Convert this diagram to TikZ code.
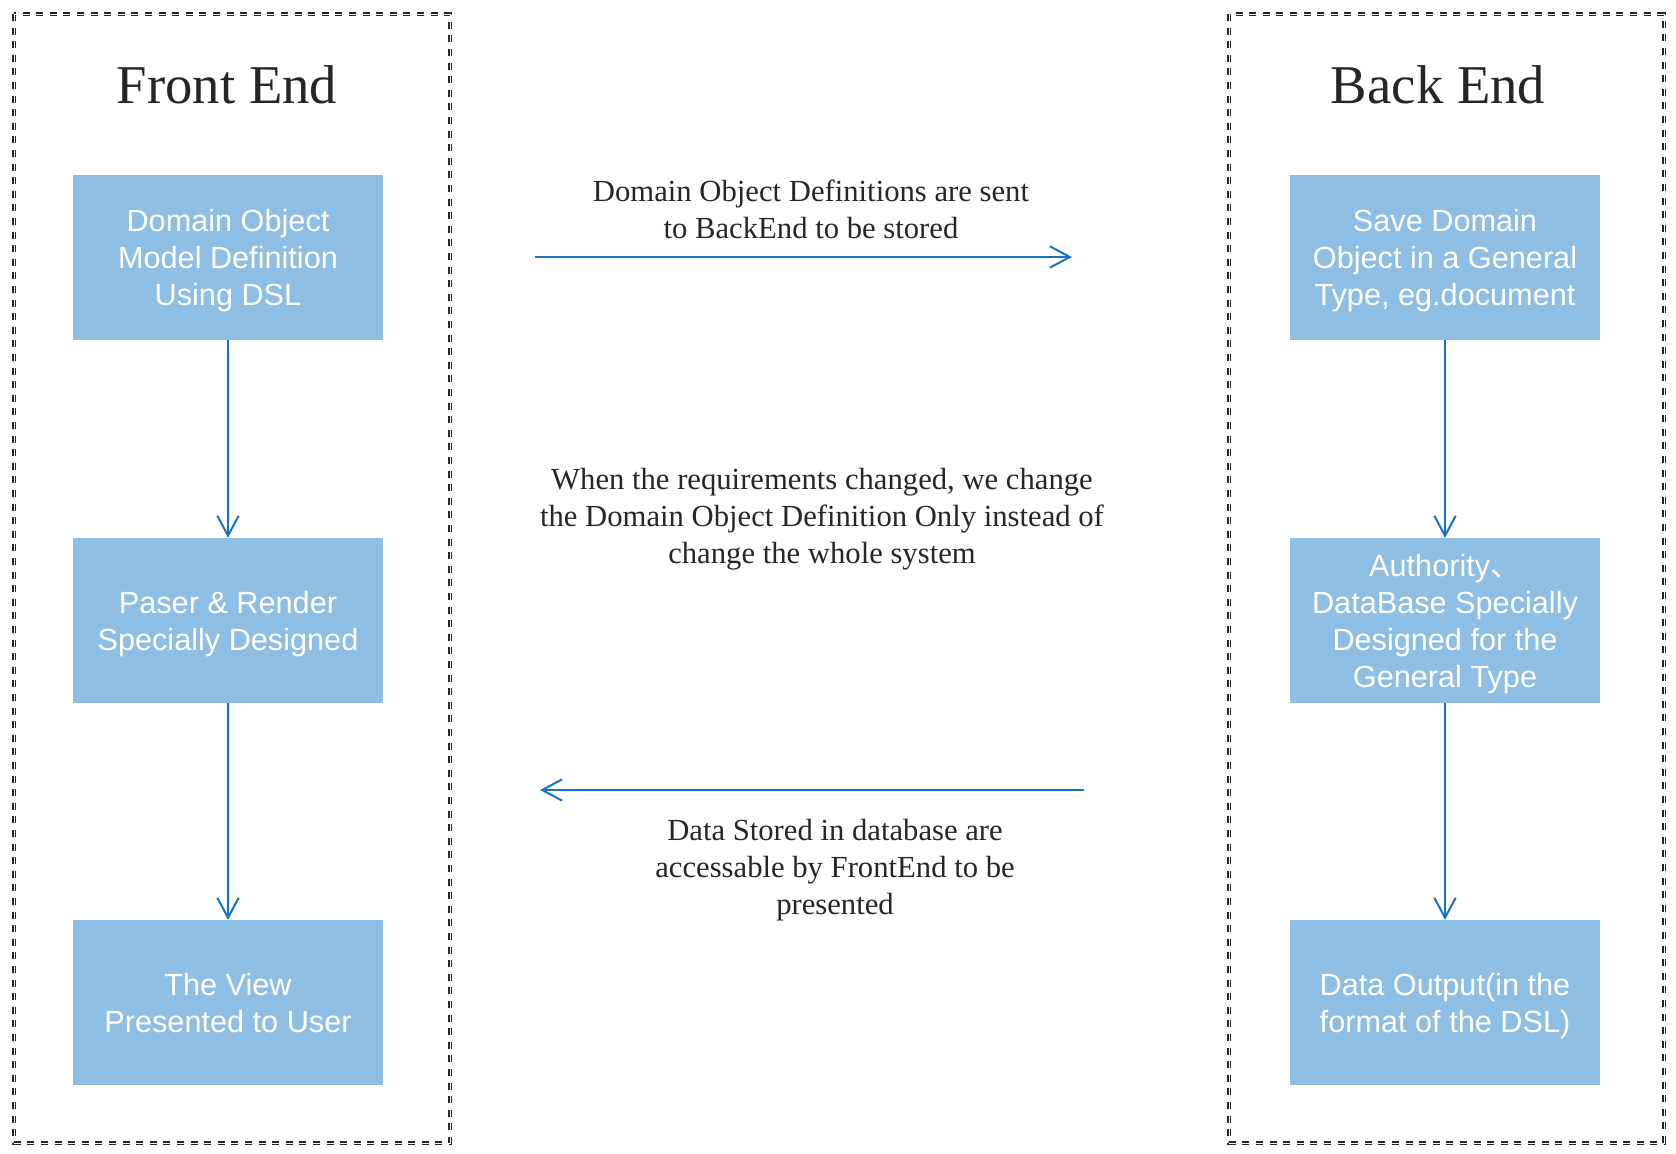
\documentclass[tikz,border=0pt]{standalone}
\usepackage{fontspec}
\setmainfont{Liberation Serif}
\newfontfamily\boxfont{Liberation Sans}
\newfontfamily\cjk{Noto Sans CJK SC}
\usetikzlibrary{positioning}
\usetikzlibrary{arrows.meta}
\usepackage{xcolor}
\definecolor{boxblue}{RGB}{142,190,228}
\definecolor{arrowblue}{RGB}{22,114,196}
\definecolor{inkgray}{RGB}{38,38,38}

\begin{document}
\begin{tikzpicture}[x=0.75pt,y=-0.75pt,
  frame/.style={draw=inkgray,line width=1pt,double=white,double distance=0.6pt,dash pattern=on 5.2pt off 5pt},
  block/.style={fill=boxblue,minimum width=232.5pt,minimum height=123.5pt,inner sep=0pt,text depth=0pt,
    align=center,text=white,font=\boxfont\fontsize{23}{27.7}\selectfont},
  title/.style={anchor=base,text=inkgray,font=\fontsize{41}{49}\selectfont},
  note/.style={align=center,text=inkgray,font=\fontsize{23}{27.7}\selectfont},
  link/.style={draw=arrowblue,line width=1.5pt,-{Straight Barb[length=15pt,width=16pt,line width=1.5pt]}}]
\useasboundingbox (0,0) rectangle (1676,1153);
\draw[frame] (14,14) rectangle (450,1143);%
\draw[frame] (1229,14) rectangle (1664,1143);
\node[title] (fetitle) at (227,103) {Front End};
\node[title] (betitle) at (1438,103) {Back End};
\node[block] (dsl) at (228,257.5) {Domain Object\\Model Definition\\Using DSL};
\node[block] (render) at (228,620.5) {Paser \& Render\\Specially Designed};
\node[block] (view) at (228,1002.5) {The View\\Presented to User};
\node[block] (save) at (1445,257.5) {Save Domain\\Object in a General\\Type, eg.document};
\node[block] (auth) at (1445,620.5) {Authority{\cjk 、}\\DataBase Specially\\Designed for the\\General Type};
\node[block] (output) at (1445,1002.5) {Data Output(in the\\format of the DSL)};
\draw[link] (dsl) -- (render);
\draw[link] (render) -- (view);
\draw[link] (save) -- (auth);
\draw[link] (auth) -- (output);
\coordinate (sendstart) at (535,257);
\coordinate (sendend) at (1072,257);
\coordinate (getstart) at (1084,790);
\coordinate (getend) at (540,790);
\draw[link] (sendstart) -- (sendend);
\draw[link] (getstart) -- (getend);
\node[note] (sendtext) at (811,209) {Domain Object Definitions are sent\\to BackEnd to be stored};
\node[note] (changetext) at (822,519) {When the requirements changed, we change\\the Domain Object Definition Only instead of\\change the whole system};
\node[note] (gettext) at (835,870) {Data Stored in database are\\accessable by FrontEnd to be\\presented};
\end{tikzpicture}
\end{document}
